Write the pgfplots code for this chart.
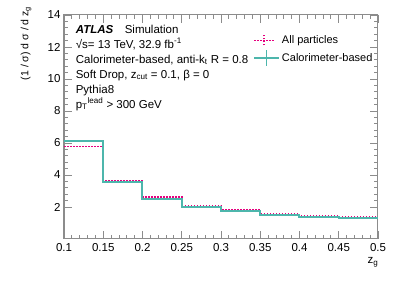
\documentclass[border=0pt]{standalone}
\usepackage{fontspec}
\setmainfont{Liberation Sans}
\setsansfont{Liberation Sans}
\usepackage{pgfplots}
\pgfplotsset{compat=1.18}
\definecolor{calo}{HTML}{4DB6AC}
\definecolor{allp}{HTML}{E6007E}
\definecolor{axgray}{HTML}{8C8C8C}
\begin{document}
\begin{tikzpicture}
\begin{axis}[
  scale only axis, width=314pt, height=224pt,
  xmin=0.1, xmax=0.5, ymin=0, ymax=14,
  xtick={0.1,0.15,...,0.5},
  xticklabels={0.1,0.15,0.2,0.25,0.3,0.35,0.4,0.45,0.5},
  ytick={2,4,...,14},
  minor x tick num=4, minor y tick num=4,
  tick align=inside, tick pos=both,
  major tick length=8pt, minor tick length=4pt,
  axis line style={axgray, line width=1pt},
  every tick/.style={axgray, line width=0.8pt},
  /pgf/number format/assume math mode=true,
  tick label style={font=\fontsize{11.5}{13}\selectfont},
  xticklabel style={yshift=-1pt},
  xlabel={z\textsubscript{g}},
  xlabel style={at={(axis description cs:1,0)}, anchor=north east, yshift=-15pt, xshift=4pt, font=\fontsize{11.5}{13}\selectfont},
  ylabel={(1 / σ) d σ / d z\textsubscript{g}},
  ylabel style={at={(axis description cs:0,1)}, anchor=south east, xshift=12pt, yshift=29pt, font=\fontsize{10.5}{12}\selectfont},
  legend style={at={(axis cs:0.341,12.85)}, anchor=north west, draw=none, fill=none, font=\fontsize{11}{13}\selectfont, row sep=2pt, inner sep=0pt},
  legend cell align=left,
]
\addplot[allp, line width=1.8pt, dash pattern=on 1.5pt off 1.5pt, const plot, forget plot] coordinates {
(0.1,5.78) (0.15,3.66) (0.2,2.61) (0.25,2.08) (0.3,1.80) (0.35,1.58) (0.4,1.46) (0.45,1.39) (0.5,1.39)};
\addplot[calo, line width=2pt, const plot, forget plot] coordinates {
(0.1,6.12) (0.15,3.55) (0.2,2.52) (0.25,1.97) (0.3,1.74) (0.35,1.52) (0.4,1.39) (0.45,1.33) (0.5,1.33)};
\addlegendimage{allp, legend image code/.code={
  \draw[allp, line width=1.6pt, dash pattern=on 1.5pt off 1.5pt] (0pt,0pt) -- (20pt,0pt);
  \draw[allp, line width=1.6pt, dash pattern=on 1.5pt off 1.5pt] (10pt,-5pt) -- (10pt,5pt);}}
\addlegendentry{All particles}
\addlegendimage{calo, legend image code/.code={
  \draw[calo, line width=1.6pt] (0pt,0pt) -- (25pt,0pt);
  \draw[calo, line width=1.6pt] (12.5pt,-8pt) -- (12.5pt,8pt);}}
\addlegendentry{Calorimeter-based}
\node[anchor=north west, align=left, font=\fontsize{11.5}{15}\selectfont, inner sep=0pt] at (axis description cs:0.037,0.955) {%
  {\bfseries\itshape ATLAS}\hspace{1em}Simulation\\[-0.5pt]
  √s= 13 TeV, 32.9 fb\textsuperscript{-1}\\
  Calorimeter-based, anti-k\textsubscript{t} R = 0.8\\
  Soft Drop, z\textsubscript{cut} = 0.1, β = 0\\
  Pythia8\\
  p\textsubscript{T}\textsuperscript{lead} > 300 GeV};
\end{axis}
\useasboundingbox (current axis.south west) ++(-64pt,-47pt) rectangle ++(399pt,286pt);
\end{tikzpicture}
\end{document}
